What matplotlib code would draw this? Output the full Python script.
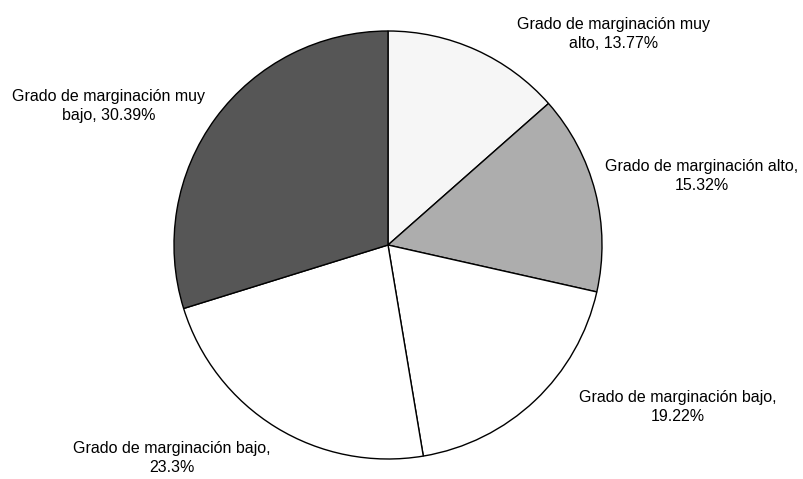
import matplotlib
matplotlib.use("Agg")
import matplotlib.pyplot as plt

# slices clockwise from 12 o'clock
categories = [
    "Grado de marginación muy alto",
    "Grado de marginación alto",
    "Grado de marginación bajo",
    "Grado de marginación bajo",
    "Grado de marginación muy bajo",
]
values = [13.77, 15.32, 19.22, 23.3, 30.39]
colors = ["#f6f6f6", "#adadad", "#ffffff", "#ffffff", "#565656"]

# label centres in axes data units (pie radius = 1)
label_pos = [(1.056, 0.985), (1.465, 0.322), (1.355, -0.757),
             (-1.009, -0.995), (-1.304, 0.650)]


def make_label(name, v):
    words = name.split()
    first = " ".join(words[:4])
    rest = " ".join(words[4:])
    if rest:
        return f"{first}\n{rest}, {v:g}%"
    return f"{first},\n{v:g}%"


labels = [make_label(n, v) for n, v in zip(categories, values)]

fig = plt.figure(figsize=(8.04, 4.79), dpi=100)
cx, cy, r = 388, 245, 214
ax = fig.add_axes([(cx - r) / 804, (479 - cy - r) / 479, 2 * r / 804, 2 * r / 479])

wedges, texts = ax.pie(values, colors=colors, startangle=90, counterclock=False,
                       labels=labels, labeldistance=1.2,
                       wedgeprops=dict(edgecolor="black", linewidth=1.0),
                       textprops=dict(fontsize=11.5, family="Liberation Sans",
                                      linespacing=1.3))
for t, (x, y) in zip(texts, label_pos):
    t.set_position((x, y))
    t.set_ha("center")
    t.set_va("center")
    t.set_multialignment("center")

ax.set_xlim(-1, 1)
ax.set_ylim(-1, 1)
ax.set_aspect("equal")
ax.axis("off")

fig.savefig("out.png", dpi=100)
